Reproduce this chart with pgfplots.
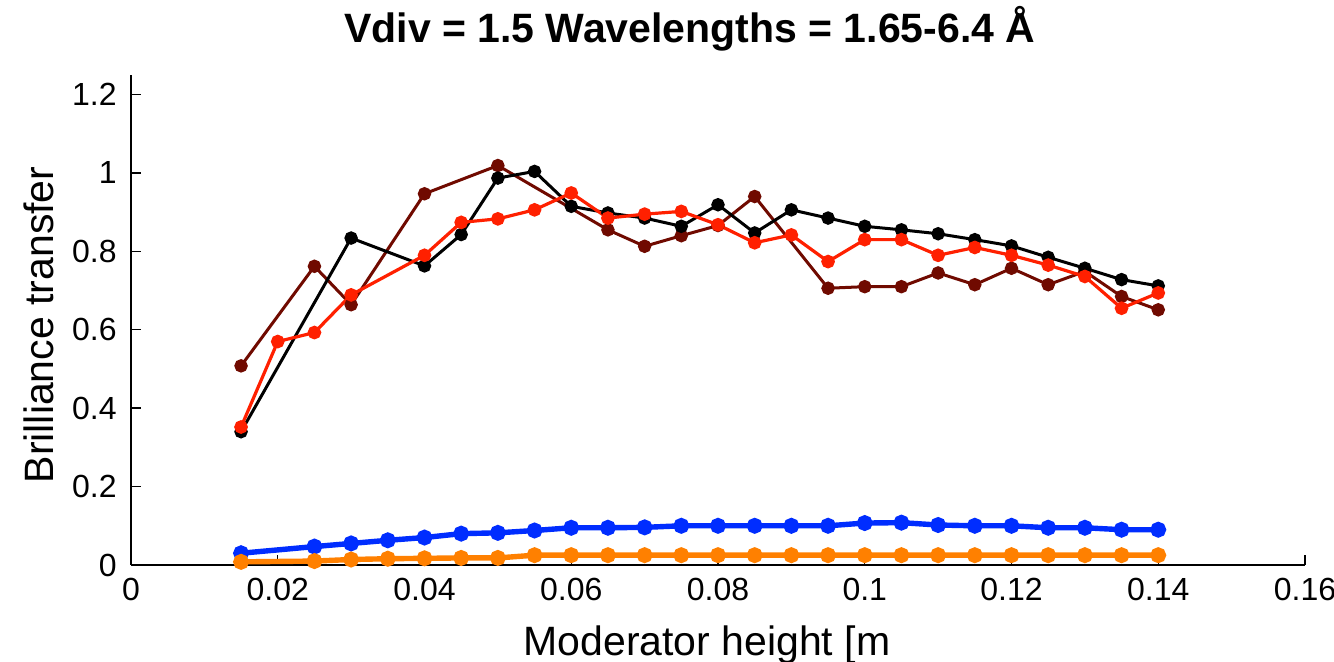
\documentclass[border=0pt]{standalone}
\usepackage{fontspec}
\setmainfont{Liberation Sans}
\usepackage{pgfplots}
\pgfplotsset{compat=1.18}
\definecolor{cblack}{RGB}{0,0,0}
\definecolor{cdark}{RGB}{112,10,0}
\definecolor{cred}{RGB}{255,32,0}
\definecolor{cblue}{RGB}{0,45,255}
\definecolor{corange}{RGB}{255,128,0}
\begin{document}
\begin{tikzpicture}
\begin{axis}[
  at={(0,0)}, anchor=south west,
  scale only axis, width=587pt, height=245pt,
  xmin=0, xmax=0.16, ymin=0, ymax=1.25,
  axis x line*=bottom, axis y line*=left,
  axis line style={line width=0.9pt},
  tick align=inside, major tick length=5pt,
  every tick/.style={line width=0.7pt, black},
  xtick={0,0.02,0.04,0.06,0.08,0.1,0.12,0.14,0.16},
  xticklabels={0,0.02,0.04,0.06,0.08,0.1,0.12,0.14,0.16},
  ytick={0,0.2,0.4,0.6,0.8,1,1.2},
  yticklabels={0,0.2,0.4,0.6,0.8,1,1.2},
  /pgf/number format/assume math mode=true,
  ticklabel style={font=\fontsize{16}{16}\selectfont, inner sep=0pt},
  xticklabel style={yshift=-6.5pt},
  yticklabel style={xshift=-7pt},
  title={Vdiv = 1.5 Wavelengths = 1.65-6.4 Å},
  title style={at={(axis description cs:0.476,1.0408)}, anchor=base, font=\fontsize{20.5}{24}\selectfont\bfseries, inner sep=0pt},
  xlabel={Moderator height [m},
  xlabel style={at={(axis description cs:0.4906,-0.1837)}, anchor=base, font=\fontsize{20.5}{24}\selectfont, inner sep=0pt},
  ylabel={Brilliance transfer},
  ylabel style={at={(axis description cs:-0.0664,0.49)}, anchor=base, font=\fontsize{20.5}{24}\selectfont, inner sep=0pt},
  clip=false,
]
% dark red
\addplot[cdark, line width=1.5pt, mark=*, mark size=2.6pt, mark options={solid, fill=cdark}] coordinates {
(0.015,0.508) (0.025,0.762) (0.03,0.664) (0.04,0.947) (0.05,1.019) (0.065,0.855) (0.07,0.813) (0.075,0.84) (0.08,0.866) (0.085,0.94) (0.095,0.706) (0.1,0.71) (0.105,0.71) (0.11,0.745) (0.115,0.715) (0.12,0.757) (0.125,0.715) (0.13,0.749) (0.135,0.685) (0.14,0.651)
};
% black
\addplot[cblack, line width=1.5pt, mark=*, mark size=2.6pt, mark options={solid, fill=cblack}] coordinates {
(0.015,0.34) (0.03,0.834) (0.04,0.763) (0.045,0.843) (0.05,0.987) (0.055,1.004) (0.06,0.915) (0.065,0.898) (0.07,0.885) (0.075,0.864) (0.08,0.919) (0.085,0.847) (0.09,0.906) (0.095,0.885) (0.1,0.864) (0.105,0.855) (0.11,0.845) (0.115,0.83) (0.12,0.814) (0.125,0.785) (0.13,0.757) (0.135,0.728) (0.14,0.712)
};
% red
\addplot[cred, line width=1.6pt, mark=*, mark size=2.6pt, mark options={solid, fill=cred}] coordinates {
(0.015,0.352) (0.02,0.57) (0.025,0.593) (0.03,0.689) (0.04,0.79) (0.045,0.874) (0.05,0.883) (0.055,0.906) (0.06,0.949) (0.065,0.885) (0.07,0.895) (0.075,0.902) (0.08,0.868) (0.085,0.822) (0.09,0.842) (0.095,0.774) (0.1,0.83) (0.105,0.83) (0.11,0.79) (0.115,0.81) (0.12,0.79) (0.125,0.765) (0.13,0.736) (0.135,0.655) (0.14,0.694)
};
% blue
\addplot[cblue, line width=2.7pt, mark=*, mark size=2.6pt, mark options={solid, fill=cblue}] coordinates {
(0.015,0.03) (0.025,0.047) (0.03,0.055) (0.035,0.063) (0.04,0.07) (0.045,0.08) (0.05,0.082) (0.055,0.088) (0.06,0.095) (0.065,0.095) (0.07,0.096) (0.075,0.1) (0.08,0.1) (0.085,0.1) (0.09,0.1) (0.095,0.1) (0.1,0.107) (0.105,0.108) (0.11,0.102) (0.115,0.1) (0.12,0.1) (0.125,0.095) (0.13,0.095) (0.135,0.09) (0.14,0.09)
};
% orange
\addplot[corange, line width=2.7pt, mark=*, mark size=2.6pt, mark options={solid, fill=corange}] coordinates {
(0.015,0.008) (0.025,0.01) (0.03,0.014) (0.035,0.016) (0.04,0.017) (0.045,0.018) (0.05,0.018) (0.055,0.025) (0.06,0.025) (0.065,0.025) (0.07,0.025) (0.075,0.025) (0.08,0.025) (0.085,0.025) (0.09,0.025) (0.095,0.025) (0.1,0.025) (0.105,0.025) (0.11,0.025) (0.115,0.025) (0.12,0.025) (0.125,0.025) (0.13,0.025) (0.135,0.025) (0.14,0.025)
};
\end{axis}
\pgfresetboundingbox
\path[use as bounding box] (-65.5pt,-48.5pt) rectangle (601.5pt,282.5pt);
\end{tikzpicture}
\end{document}
